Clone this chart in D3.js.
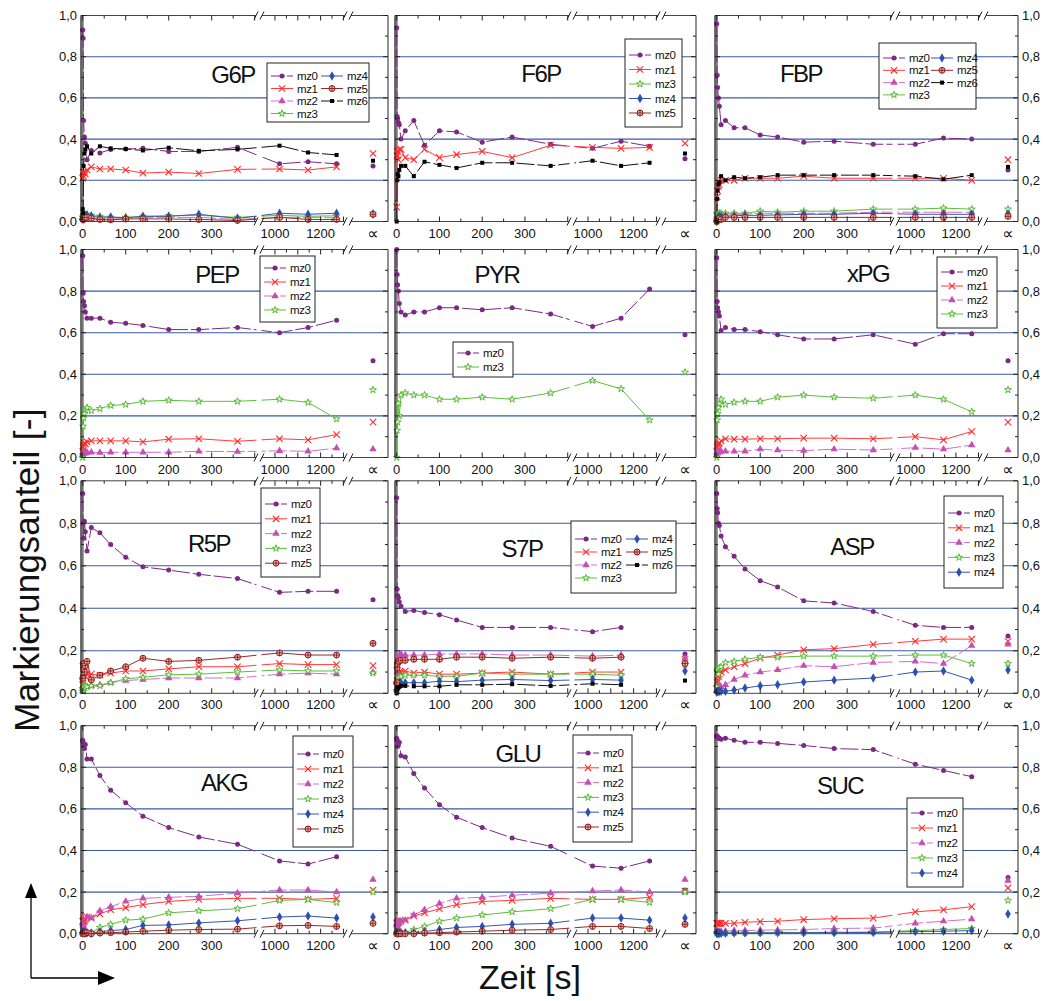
<!DOCTYPE html>
<html><head><meta charset="utf-8">
<script src="https://cdn.jsdelivr.net/npm/d3@7"></script>
<style>
body{margin:0;background:#fff}
svg{display:block}
text{font-family:"Liberation Sans",Arial,sans-serif;fill:#111}
</style>
</head><body>
<svg id="chart" width="1046" height="1001"></svg>
<script>
// ---- data: sampling times [s]; last entry is the "∝" (end) column ----
const T = [0,1,2,4,6,10,20,40,65,100,140,200,270,360,1020,1145,1270,Infinity];
const metabolites = ["G6P","F6P","FBP","PEP","PYR","xPG","R5P","S7P","ASP","AKG","GLU","SUC"];
const yTicks = [0,0.2,0.4,0.6,0.8,1.0];
const yTickLabels = ["0,0","0,2","0,4","0,6","0,8","1,0"];
const xTicks = [0,100,200,300,1000,1200];
const xTickLabels = ["0","100","200","300","1000","1200"];
const infLabel = "∝";
const xTitle = "Zeit [s]";
const yTitle = "Markierungsanteil [-]";

const G6P = {
 mz0:[0.93,0.89,0.49,0.41,0.38,0.30,0.345,0.333,0.35,0.352,0.355,0.34,0.34,0.36,0.28,0.29,0.28,0.27],
 mz1:[0.21,0.24,0.22,0.24,0.23,0.25,0.265,0.255,0.255,0.25,0.235,0.24,0.233,0.253,0.255,0.25,0.265,0.33],
 mz2:[0.02,0.04,0.02,0.01,0.02,0.02,0.015,0.012,0.012,0.015,0.02,0.02,0.02,0.01,0.02,0.02,0.02,0.035],
 mz3:[0.02,0.02,0.03,0.03,0.03,0.035,0.03,0.025,0.02,0.02,0.025,0.028,0.03,0.02,0.03,0.025,0.028,0.04],
 mz4:[0.02,0.01,0.02,0.02,0.03,0.03,0.025,0.02,0.022,0.018,0.025,0.025,0.035,0.015,0.04,0.035,0.04,0.035],
 mz5:[0.01,0.01,0.01,0.02,0.02,0.02,0.015,0.01,0.008,0.012,0.013,0.012,0.01,0.005,0.02,0.01,0.01,0.035],
 mz6:[0.06,0.04,0.27,0.33,0.35,0.365,0.33,0.365,0.355,0.352,0.345,0.358,0.343,0.35,0.368,0.335,0.323,0.295]
};
const F6P = {
 mz0:[0.94,0.51,0.50,0.48,0.47,0.40,0.44,0.49,0.37,0.44,0.435,0.385,0.41,0.375,0.355,0.39,0.365,0.305],
 mz1:[0.07,0.32,0.34,0.30,0.35,0.35,0.31,0.30,0.35,0.31,0.325,0.34,0.31,0.37,0.36,0.355,0.36,0.38],
 mz6:[0.0,0.20,0.23,0.22,0.25,0.27,0.27,0.22,0.29,0.275,0.26,0.285,0.285,0.27,0.295,0.27,0.285,0.33]
};
const FBP = {
 mz0:[0.96,0.71,0.65,0.60,0.56,0.47,0.49,0.455,0.455,0.42,0.41,0.385,0.39,0.375,0.375,0.405,0.40,0.25],
 mz1:[0.03,0.12,0.15,0.17,0.18,0.20,0.20,0.20,0.21,0.21,0.21,0.22,0.21,0.21,0.21,0.21,0.20,0.30],
 mz2:[0.01,0.02,0.03,0.03,0.03,0.03,0.03,0.035,0.035,0.04,0.04,0.04,0.04,0.045,0.045,0.045,0.045,0.04],
 mz3:[0.0,0.02,0.03,0.035,0.04,0.04,0.04,0.04,0.04,0.05,0.045,0.05,0.05,0.06,0.06,0.065,0.06,0.06],
 mz4:[0.0,0.01,0.02,0.02,0.025,0.025,0.025,0.028,0.03,0.03,0.032,0.035,0.035,0.04,0.035,0.035,0.035,0.035],
 mz5:[0.0,0.005,0.01,0.01,0.015,0.01,0.02,0.02,0.02,0.02,0.02,0.02,0.02,0.02,0.02,0.02,0.02,0.025],
 mz6:[0.0,0.11,0.15,0.18,0.19,0.22,0.20,0.215,0.21,0.215,0.225,0.225,0.225,0.225,0.22,0.205,0.225,0.265]
};
const PEP = {
 mz0:[0.97,0.79,0.75,0.73,0.70,0.67,0.67,0.67,0.65,0.645,0.635,0.615,0.615,0.625,0.60,0.625,0.66,0.465],
 mz1:[0.03,0.05,0.06,0.07,0.065,0.075,0.08,0.08,0.08,0.08,0.075,0.088,0.09,0.078,0.09,0.085,0.11,0.17],
 mz2:[0.01,0.02,0.02,0.025,0.02,0.025,0.025,0.024,0.025,0.025,0.025,0.025,0.03,0.028,0.032,0.03,0.045,0.04],
 mz3:[0.0,0.15,0.19,0.21,0.23,0.24,0.225,0.235,0.25,0.255,0.27,0.275,0.27,0.27,0.28,0.265,0.185,0.325]
};
const PYR = {
 mz0:[1.0,0.88,0.83,0.80,0.74,0.70,0.685,0.70,0.70,0.72,0.72,0.71,0.72,0.69,0.63,0.67,0.81,0.59],
 mz3:[0.0,0.13,0.17,0.26,0.20,0.30,0.31,0.30,0.30,0.28,0.28,0.29,0.28,0.31,0.37,0.33,0.18,0.41]
};
const xPG = {
 mz0:[0.96,0.75,0.72,0.70,0.68,0.61,0.625,0.615,0.615,0.605,0.59,0.57,0.57,0.59,0.545,0.595,0.595,0.465],
 mz1:[0.03,0.05,0.06,0.065,0.07,0.08,0.09,0.088,0.088,0.09,0.09,0.093,0.093,0.09,0.10,0.085,0.125,0.17],
 mz2:[0.01,0.02,0.03,0.03,0.025,0.03,0.03,0.03,0.03,0.04,0.035,0.033,0.04,0.036,0.047,0.04,0.06,0.035],
 mz3:[0.0,0.18,0.21,0.24,0.26,0.28,0.255,0.265,0.27,0.27,0.29,0.30,0.29,0.285,0.30,0.28,0.22,0.325]
};
const R5P = {
 mz0:[0.94,0.80,0.73,0.81,0.76,0.67,0.78,0.755,0.70,0.64,0.595,0.58,0.56,0.54,0.475,0.48,0.48,0.44],
 mz1:[0.04,0.07,0.09,0.10,0.08,0.09,0.09,0.085,0.095,0.105,0.105,0.115,0.125,0.125,0.14,0.135,0.135,0.13],
 mz2:[0.01,0.02,0.03,0.03,0.03,0.03,0.035,0.04,0.05,0.06,0.065,0.072,0.072,0.072,0.09,0.095,0.09,0.10],
 mz3:[0.01,0.02,0.03,0.025,0.035,0.03,0.035,0.035,0.05,0.068,0.075,0.087,0.09,0.10,0.11,0.105,0.105,0.095],
 mz5:[0.07,0.14,0.12,0.10,0.13,0.15,0.063,0.085,0.105,0.125,0.165,0.15,0.155,0.17,0.19,0.18,0.18,0.235]
};
const S7P = {
 mz0:[0.92,0.49,0.46,0.45,0.43,0.41,0.385,0.39,0.38,0.37,0.345,0.31,0.31,0.31,0.29,0.31,null,0.185],
 mz1:[0.03,0.06,0.08,0.09,0.10,0.10,0.105,0.095,0.10,0.09,0.09,0.095,0.10,0.09,0.10,0.10,null,0.16],
 mz2:[0.02,0.10,0.15,0.17,0.18,0.185,0.18,0.18,0.18,0.185,0.185,0.185,0.18,0.18,0.175,0.18,null,0.165],
 mz3:[0.01,0.05,0.06,0.07,0.075,0.08,0.085,0.085,0.085,0.08,0.08,0.095,0.09,0.09,0.09,0.085,null,0.135],
 mz4:[0.01,0.03,0.04,0.045,0.05,0.05,0.05,0.05,0.05,0.057,0.055,0.062,0.065,0.06,0.065,0.062,null,0.105],
 mz5:[0.05,0.12,0.14,0.15,0.15,0.155,0.155,0.16,0.16,0.16,0.17,0.17,0.165,0.17,0.165,0.17,null,0.14],
 mz6:[0.0,0.02,0.025,0.03,0.03,0.035,0.035,0.033,0.033,0.033,0.04,0.04,0.043,0.035,0.045,0.04,null,0.06]
};
const ASP = {
 mz0:[0.94,0.87,0.85,0.80,0.79,0.74,0.69,0.645,0.585,0.53,0.50,0.435,0.425,0.385,0.32,0.31,0.31,0.27],
 mz1:[0.02,0.05,0.06,0.08,0.09,0.10,0.11,0.125,0.14,0.165,0.18,0.205,0.21,0.23,0.245,0.255,0.255,0.245],
 mz2:[0.01,0.02,0.025,0.03,0.03,0.03,0.04,0.065,0.085,0.10,0.11,0.13,0.125,0.145,0.15,0.14,0.225,0.23],
 mz3:[0.03,0.10,0.11,0.09,0.12,0.125,0.145,0.15,0.16,0.17,0.17,0.175,0.175,0.175,0.18,0.18,0.14,0.14],
 mz4:[0.005,0.01,0.01,0.01,0.01,0.01,0.01,0.015,0.025,0.035,0.04,0.053,0.062,0.072,0.10,0.105,0.062,0.11]
};
const AKG = {
 mz0:[0.93,0.92,0.90,0.89,0.91,0.84,0.84,0.76,0.69,0.63,0.565,0.51,0.465,0.43,0.35,0.335,0.37,null],
 mz1:[0.06,0.06,0.065,0.06,0.07,0.08,0.075,0.095,0.115,0.125,0.14,0.155,0.165,0.17,0.17,0.165,0.17,0.21],
 mz2:[0.05,0.04,0.03,0.02,0.01,0.08,0.075,0.11,0.13,0.155,0.17,0.175,0.18,0.195,0.21,0.21,0.20,0.26],
 mz3:[0.0,0.005,0.01,0.005,0.01,0.005,0.005,0.03,0.045,0.065,0.07,0.10,0.11,0.12,0.16,0.165,0.15,0.20],
 mz4:[0.005,0.01,0.005,0.005,0.01,0.005,0.003,0.01,0.015,0.02,0.04,0.042,0.052,0.062,0.08,0.085,0.075,0.08],
 mz5:[0.0,0.005,0.0,0.005,0.0,0.005,0.0,0.003,0.005,0.008,0.012,0.017,0.02,0.022,0.038,0.04,0.035,0.05]
};
const GLU = {
 mz0:[0.94,0.93,0.90,0.91,0.92,0.855,0.85,0.77,0.70,0.62,0.56,0.51,0.46,0.42,0.325,0.315,0.35,0.21],
 mz1:[0.05,0.055,0.05,0.06,0.055,0.06,0.065,0.085,0.10,0.12,0.14,0.155,0.16,0.17,0.165,0.165,0.175,0.205],
 mz2:[0.05,0.04,0.03,0.05,0.06,0.06,0.065,0.09,0.115,0.145,0.17,0.175,0.185,0.195,0.205,0.21,0.20,0.26],
 mz3:[0.0,0.005,0.01,0.005,0.01,0.005,0.005,0.02,0.035,0.06,0.075,0.09,0.105,0.12,0.165,0.165,0.15,0.20],
 mz4:[0.005,0.005,0.005,0.005,0.005,0.005,0.005,0.005,0.01,0.02,0.03,0.035,0.045,0.05,0.075,0.075,0.065,0.075],
 mz5:[0.0,0.0,0.0,0.0,0.0,0.0,0.0,0.0,0.003,0.005,0.008,0.012,0.017,0.02,0.035,0.035,0.025,0.045]
};
const SUC = {
 mz0:[0.95,0.95,0.945,0.94,0.94,0.935,0.94,0.93,0.92,0.92,0.915,0.905,0.89,0.885,0.815,0.785,0.755,0.27],
 mz1:[0.05,0.05,0.05,0.05,0.05,0.05,0.05,0.05,0.055,0.058,0.06,0.068,0.072,0.075,0.105,0.115,0.13,0.22],
 mz2:[0.01,0.01,0.01,0.01,0.01,0.01,0.012,0.015,0.015,0.017,0.018,0.02,0.025,0.027,0.05,0.06,0.07,0.255],
 mz3:[0.003,0.003,0.003,0.003,0.003,0.003,0.003,0.004,0.005,0.005,0.006,0.006,0.007,0.008,0.015,0.02,0.025,0.16],
 mz4:[0.002,0.002,0.002,0.002,0.002,0.002,0.002,0.003,0.003,0.004,0.004,0.005,0.005,0.006,0.01,0.012,0.015,0.095]
};
const legendItems = {
 G6P:[["mz0","mz1","mz2","mz3"],["mz4","mz5","mz6"]],
 F6P:[["mz0","mz1","mz3","mz4","mz5"]],
 FBP:[["mz0","mz1","mz2","mz3"],["mz4","mz5","mz6"]],
 PEP:[["mz0","mz1","mz2","mz3"]],
 PYR:[["mz0","mz3"]],
 xPG:[["mz0","mz1","mz2","mz3"]],
 R5P:[["mz0","mz1","mz2","mz3","mz5"]],
 S7P:[["mz0","mz1","mz2","mz3"],["mz4","mz5","mz6"]],
 ASP:[["mz0","mz1","mz2","mz3","mz4"]],
 AKG:[["mz0","mz1","mz2","mz3","mz4","mz5"]],
 GLU:[["mz0","mz1","mz2","mz3","mz4","mz5"]],
 SUC:[["mz0","mz1","mz2","mz3","mz4"]]
};
const seriesData = {G6P,F6P,FBP,PEP,PYR,xPG,R5P,S7P,ASP,AKG,GLU,SUC};

// ---- layout & style ----
const cols = [{L:81,R:388,B1:259,B2:348,inf:373},{L:395,R:696,B1:572,B2:661,inf:685},{L:715,R:1018,B1:895,B2:983,inf:1008}];
const rows = [{top:15.5,bot:221.5},{top:249.5,bot:457.5},{top:480.8,bot:693.3},{top:725.7,bot:933.7}];
const titlePos = {G6P:[233,83],F6P:[541,82],FBP:[801,82],PEP:[217,283],PYR:[497,283],xPG:[868,282],
 R5P:[209,552],S7P:[522,557],ASP:[852,555],AKG:[224,791],GLU:[518,762],SUC:[840,794]};
const legPos = {
 G6P:{x:267,y:63,w:102,h:59,pad:13,rh:12.5,cw:50},
 F6P:{x:625,y:39,w:57,h:88,pad:16,rh:14.5,cw:0},
 FBP:{x:879,y:43,w:97,h:66,pad:15,rh:12.3,cw:48},
 PEP:{x:260,y:256,w:55,h:66,pad:12,rh:14,cw:0},
 PYR:{x:453,y:342,w:60,h:35,pad:11,rh:14,cw:0},
 xPG:{x:937,y:257,w:60,h:71,pad:15,rh:14,cw:0},
 R5P:{x:261,y:488,w:59,h:89,pad:16,rh:14.8,cw:0},
 S7P:{x:571,y:521,w:105,h:72,pad:18,rh:13,cw:51},
 ASP:{x:944,y:496,w:59,h:92,pad:17,rh:14.8,cw:0},
 AKG:{x:293,y:736,w:60,h:111,pad:18,rh:15,cw:0},
 GLU:{x:573,y:735,w:59,h:107,pad:18,rh:14.8,cw:0},
 SUC:{x:907,y:798,w:56,h:89,pad:15,rh:15,cw:0}
};
const COL = {mz0:"#7b2a83",mz1:"#ff2b2b",mz2:"#c64fb3",mz3:"#4fb52c",mz4:"#2c4fb0",mz5:"#8e1c1c",mz6:"#000000"};
const LINECOL = {mz0:"#7b2a83",mz1:"#ff3b3b",mz2:"#d070c6",mz3:"#5cbf3a",mz4:"#3555b5",mz5:"#952a2a",mz6:"#111111"};
const DASH = {mz0:"18,3",mz2:"18,3",mz6:"18,3"};

const svg = d3.select("#chart");
const defs = svg.append("defs");

function drawMarker(g, k, x, y) {
  const c = COL[k];
  if (k === "mz0") g.append("circle").attr("cx",x).attr("cy",y).attr("r",2.5).attr("fill",c);
  else if (k === "mz1") g.append("path").attr("d",`M${x-3.2},${y-3.2}L${x+3.2},${y+3.2}M${x-3.2},${y+3.2}L${x+3.2},${y-3.2}`).attr("stroke",c).attr("stroke-width",1.1).attr("fill","none");
  else if (k === "mz2") g.append("path").attr("d",d3.symbol(d3.symbolTriangle,24)()).attr("transform",`translate(${x},${y})`).attr("fill",c);
  else if (k === "mz3") g.append("path").attr("d",d3.symbol(d3.symbolStar,15)()).attr("transform",`translate(${x},${y})`).attr("fill","#e4f5d8").attr("stroke",c).attr("stroke-width",0.9);
  else if (k === "mz4") g.append("path").attr("d",d3.symbol(d3.symbolDiamond,26)()).attr("transform",`translate(${x},${y})`).attr("fill",c);
  else if (k === "mz5") {
    g.append("circle").attr("cx",x).attr("cy",y).attr("r",3).attr("fill","#e9b7a8").attr("stroke",c).attr("stroke-width",1);
    g.append("path").attr("d",`M${x-3},${y}L${x+3},${y}M${x},${y-3}L${x},${y+3}`).attr("stroke",c).attr("stroke-width",0.9);
  }
  else if (k === "mz6") g.append("rect").attr("x",x-2).attr("y",y-2).attr("width",4).attr("height",4).attr("fill",c);
}

metabolites.forEach((name, i) => {
  const c = cols[i % 3], r = rows[Math.floor(i / 3)];
  const x = d3.scaleLinear().domain([-4, 410, 930, 1320]).range([c.L, c.B1, c.B1, c.B2]);
  const y = d3.scaleLinear().domain([0, 1]).range([r.bot, r.top]);
  const px = t => (t === Infinity ? c.inf : x(t));
  const g = svg.append("g");

  const cid = "clip" + i;
  const cp = defs.append("clipPath").attr("id", cid);
  cp.append("rect").attr("x", c.L).attr("y", r.top - 5).attr("width", c.B1 - 2.5 - c.L).attr("height", r.bot - r.top + 10);
  cp.append("rect").attr("x", c.B1 + 2.5).attr("y", r.top - 5).attr("width", c.R - c.B1 - 2.5).attr("height", r.bot - r.top + 10);

  g.selectAll(".grid").data([0.2, 0.4, 0.6, 0.8]).join("line")
    .attr("x1", c.L).attr("x2", c.R).attr("y1", d => y(d)).attr("y2", d => y(d))
    .attr("stroke", "#3a58a8").attr("stroke-width", 1.1);

  g.append("line").attr("x1", x(0)).attr("x2", x(0)).attr("y1", r.top).attr("y2", r.bot)
    .attr("stroke", "#7a7a7a").attr("stroke-width", 2);

  const sd = seriesData[name];
  const keys = Object.keys(sd);
  const lineGen = d3.line().defined(d => d.v != null && isFinite(d.t)).x(d => x(d.t)).y(d => y(d.v));
  const lg = g.append("g").attr("clip-path", `url(#${cid})`);
  keys.forEach(k => {
    const pts = T.map((t, j) => ({t, v: sd[k][j]}));
    lg.append("path").attr("d", lineGen(pts)).attr("fill", "none")
      .attr("stroke", LINECOL[k]).attr("stroke-width", 1)
      .attr("stroke-dasharray", DASH[k] || null);
  });
  const mg = g.append("g");
  keys.forEach(k => {
    T.forEach((t, j) => {
      const v = sd[k][j];
      if (v == null) return;
      drawMarker(mg, k, px(t), y(v));
    });
  });

  const fr = g.append("g").attr("fill", "none");
  fr.append("line").attr("x1", c.L).attr("x2", c.R).attr("y1", r.top).attr("y2", r.top).attr("stroke", "#444");
  fr.append("line").attr("x1", c.L).attr("x2", c.R).attr("y1", r.bot).attr("y2", r.bot).attr("stroke", "#444");
  fr.append("line").attr("x1", c.L).attr("x2", c.L).attr("y1", r.top).attr("y2", r.bot).attr("stroke", "#111").attr("stroke-width", 1.2);
  fr.append("line").attr("x1", c.R).attr("x2", c.R).attr("y1", r.top).attr("y2", r.bot).attr("stroke", "#777").attr("stroke-width", 1.6);

  const yMinor = d3.range(0, 1.001, 0.1);
  yMinor.forEach((v, j) => {
    const len = j % 2 === 0 ? 5 : 3;
    fr.append("line").attr("x1", c.L).attr("x2", c.L + len).attr("y1", y(v)).attr("y2", y(v)).attr("stroke", "#222");
    fr.append("line").attr("x1", c.R).attr("x2", c.R - len).attr("y1", y(v)).attr("y2", y(v)).attr("stroke", "#222");
  });
  const xMaj = [0, 100, 200, 300, 400, 1000, 1100, 1200, 1300];
  const xMin = [50, 150, 250, 350, 1050, 1150, 1250];
  [[xMaj, 5], [xMin, 3]].forEach(([arr, len]) => arr.forEach(t => {
    const xx = x(t);
    if (xx > c.B1 - 2 && xx < c.B1 + 2) return;
    fr.append("line").attr("x1", xx).attr("x2", xx).attr("y1", r.bot).attr("y2", r.bot - len).attr("stroke", "#222");
    fr.append("line").attr("x1", xx).attr("x2", xx).attr("y1", r.top).attr("y2", r.top + len).attr("stroke", "#222");
  }));

  [c.B1, c.B2].forEach(bx => [r.top, r.bot].forEach(by => {
    g.append("rect").attr("x", bx - 3).attr("y", by - 2).attr("width", 6).attr("height", 4).attr("fill", "#fff");
    g.append("path").attr("d", `M${bx - 5},${by + 4}L${bx - 1},${by - 4}M${bx + 1},${by + 4}L${bx + 5},${by - 4}`)
      .attr("stroke", "#222").attr("stroke-width", 1).attr("fill", "none");
  }));

  xTicks.forEach((t, j) => {
    g.append("text").attr("x", x(t)).attr("y", r.bot + 16).attr("text-anchor", "middle")
      .attr("font-size", 13).text(xTickLabels[j]);
  });
  g.append("text").attr("x", c.inf).attr("y", r.bot + 17).attr("text-anchor", "middle")
    .attr("font-size", 16).style("font-family", "'DejaVu Sans',sans-serif").text(infLabel);

  if (i % 3 !== 1) {
    yTicks.forEach((v, j) => {
      g.append("text").attr("x", i % 3 === 0 ? c.L - 4 : c.R + 4).attr("y", y(v) + 4.5)
        .attr("text-anchor", i % 3 === 0 ? "end" : "start").attr("font-size", 13).text(yTickLabels[j]);
    });
  }

  g.append("text").attr("x", titlePos[name][0]).attr("y", titlePos[name][1]).attr("text-anchor", "middle")
    .attr("font-size", 24).attr("letter-spacing", -1.5).text(name);

  const lp = legPos[name];
  const leg = g.append("g");
  leg.append("rect").attr("x", lp.x).attr("y", lp.y).attr("width", lp.w).attr("height", lp.h)
    .attr("fill", "#fff").attr("stroke", "#222").attr("stroke-width", 1);
  legendItems[name].forEach((colItems, ci) => {
    colItems.forEach((k, ri) => {
      const lx = lp.x + 4 + ci * lp.cw, ly = lp.y + lp.pad + ri * lp.rh;
      leg.append("line").attr("x1", lx).attr("x2", lx + 22).attr("y1", ly).attr("y2", ly)
        .attr("stroke", LINECOL[k]).attr("stroke-width", 1).attr("stroke-dasharray", DASH[k] ? "14,2" : null);
      drawMarker(leg, k, lx + 11, ly);
      leg.append("text").attr("x", lx + 26).attr("y", ly + 4).attr("font-size", 11.5)
        .attr("letter-spacing", -0.4).text(k);
    });
  });
});

svg.append("text").attr("transform", "translate(39,570) rotate(-90)").attr("text-anchor", "middle")
  .attr("font-size", 35).attr("letter-spacing", 0.3).text(yTitle);
svg.append("text").attr("x", 530).attr("y", 989).attr("text-anchor", "middle")
  .attr("font-size", 34).attr("letter-spacing", 0).text(xTitle);

const ar = svg.append("g");
ar.append("line").attr("x1", 31).attr("x2", 31).attr("y1", 978).attr("y2", 896).attr("stroke", "#000").attr("stroke-width", 1.3);
ar.append("path").attr("d", "M25,898L37,898L31,883Z").attr("fill", "#000");
ar.append("line").attr("x1", 31).attr("x2", 100).attr("y1", 978).attr("y2", 978).attr("stroke", "#000").attr("stroke-width", 1.3);
ar.append("path").attr("d", "M98,971L98,985L115,978Z").attr("fill", "#000");
</script>
</body></html>
